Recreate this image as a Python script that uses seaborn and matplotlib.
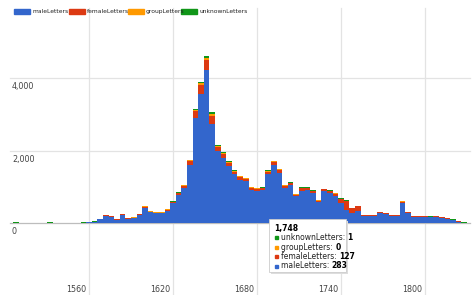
import numpy as np
import pandas as pd
import matplotlib.pyplot as plt
import seaborn as sns
from matplotlib.patches import Rectangle

years = np.arange(1500, 1832, 4)

male = [6, 8, 10, 5, 7, 9, 6, 8, 10, 7, 6, 9, 8, 7, 10,
        20, 30, 100, 195, 175, 95, 220, 120, 140, 225,
        425, 295, 270, 270, 340, 545, 775, 960, 1610, 2900,
        3560, 4230, 2730, 1980, 1800, 1560, 1340, 1200, 1150, 920,
        895, 905, 1340, 1590, 1385, 970, 1045, 735, 880, 905,
        830, 585, 875, 830, 740, 540, 350, 283, 320, 180,
        185, 200, 265, 245, 190, 200, 560, 270, 175, 175,
        165, 155, 165, 145, 120, 85, 40, 10]
female = [1, 1, 1, 1, 1, 1, 1, 1, 1, 1, 1, 1, 1, 1, 1,
          2, 3, 10, 12, 12, 8, 15, 10, 10, 14,
          25, 20, 18, 18, 25, 35, 50, 60, 100, 180,
          250, 280, 220, 130, 110, 100, 80, 70, 70, 55,
          50, 50, 80, 95, 85, 55, 60, 45, 75, 50,
          45, 35, 50, 50, 70, 120, 260, 127, 140, 40,
          25, 20, 25, 25, 20, 20, 30, 20, 15, 15,
          15, 15, 15, 15, 12, 8, 5, 2]
group = [0, 0, 0, 0, 0, 0, 0, 0, 0, 0, 0, 0, 0, 0, 0,
         0, 1, 3, 5, 5, 2, 6, 4, 4, 5,
         10, 7, 6, 6, 8, 10, 12, 15, 20, 40,
         50, 50, 70, 20, 20, 20, 15, 15, 15, 12,
         12, 12, 15, 18, 15, 12, 12, 10, 12, 12,
         12, 10, 12, 10, 10, 10, 10, 0, 5, 5,
         5, 5, 5, 5, 5, 5, 5, 5, 5, 5,
         5, 5, 5, 5, 4, 3, 2, 1]
unknown = [3, 3, 3, 3, 3, 3, 3, 3, 3, 3, 3, 3, 3, 3, 3,
           10, 8, 7, 8, 8, 5, 9, 6, 6, 6,
           10, 8, 6, 6, 7, 10, 13, 15, 20, 30,
           40, 40, 30, 20, 20, 20, 15, 15, 15, 13,
           13, 13, 15, 17, 15, 13, 13, 10, 13, 13,
           13, 10, 13, 10, 10, 10, 10, 1, 5, 5,
           5, 5, 5, 5, 5, 5, 5, 5, 5, 5,
           5, 5, 5, 5, 4, 4, 3, 2]

series = ['maleLetters', 'femaleLetters', 'groupLetters', 'unknownLetters']
colors = ['#3366CC', '#DC3912', '#FF9900', '#109618']

df = pd.concat([
    pd.DataFrame({'year': years, 'letters': vals, 'type': name})
    for name, vals in zip(series, [male, female, group, unknown])
])

W, H = 473, 295
fig = plt.figure(figsize=(W / 100, H / 100), dpi=100)
ax = fig.add_axes([0, 0, 1, 1])

def px_x(x):
    return 1560 + (x - 89) / 1.4

def px_y(y):
    return (223 - y) / 0.03625

# grid
for v in [2000, 4000]:
    ax.plot([px_x(10), px_x(470)], [v, v], color='#e3e3e3', lw=0.9, zorder=0)
for yr in [1560, 1620, 1680, 1740, 1800]:
    ax.plot([yr, yr], [px_y(8), px_y(295)], color='#e3e3e3', lw=0.9, zorder=0)

# seaborn stacks the last hue level at the bottom
sns.histplot(data=df, x='year', weights='letters', hue='type',
             hue_order=series[::-1], palette=colors[::-1],
             multiple='stack', binwidth=4, binrange=(1498, 1830),
             element='bars', alpha=1, linewidth=0, legend=False, ax=ax, zorder=2)

ax.plot([px_x(10), px_x(470)], [0, 0], color='#bdbdbd', lw=0.9, zorder=1)

ax.set_xlim(px_x(0), px_x(W))
ax.set_ylim(px_y(H), px_y(0))
ax.axis('off')

# y labels
for v, lab in [(0, '0'), (2000, '2,000'), (4000, '4,000')]:
    ax.text(px_x(12), v - 120, lab, fontsize=5.8, color='#444444', va='top', ha='left')
# x labels
for yr in [1560, 1620, 1680, 1740, 1800]:
    ax.text(yr - 2, px_y(290), str(yr), fontsize=5.8, color='#444444', va='center', ha='right')

# legend
def fx(x):
    return x / W

def fy(y):
    return 1 - y / H

leg_x = [14, 69, 128, 181]
for x0, name, c in zip(leg_x, series, colors):
    fig.patches.append(Rectangle((fx(x0), fy(14)), 16 / W, 5 / H, color=c,
                                 transform=fig.transFigure, figure=fig))
    fig.text(fx(x0 + 18), fy(11.5), name, fontsize=4.3, color='#222222', va='center')

# tooltip
shadow = Rectangle((fx(271), fy(274)), 77 / W, 53 / H, facecolor='#dddddd',
                   edgecolor='none', transform=fig.transFigure, figure=fig, zorder=5)
box = Rectangle((fx(269), fy(272)), 77 / W, 53 / H, facecolor='white',
                edgecolor='#cccccc', lw=0.6, transform=fig.transFigure, figure=fig, zorder=6)
fig.patches.extend([shadow, box])
fig.text(fx(274), fy(228), '1,748', fontsize=5.5, fontweight='bold', color='#000000',
         va='center', zorder=7)
rows = [('unknownLetters', unknown[62], colors[3], 237.5),
        ('groupLetters', group[62], colors[2], 247),
        ('femaleLetters', female[62], colors[1], 256.5),
        ('maleLetters', male[62], colors[0], 266)]
for name, val, c, yy in rows:
    fig.patches.append(Rectangle((fx(275), fy(yy + 1.5)), 3 / W, 3 / H, color=c,
                                 transform=fig.transFigure, figure=fig, zorder=7))
    t = fig.text(fx(281), fy(yy), name + ': ', fontsize=5.5, color='#222222',
                 va='center', zorder=7)
    fig.canvas.draw()
    bb = t.get_window_extent()
    fig.text(bb.x1 / W, fy(yy), str(val), fontsize=5.5, fontweight='bold',
             color='#000000', va='center', zorder=7)

fig.savefig('out.png', dpi=100)
